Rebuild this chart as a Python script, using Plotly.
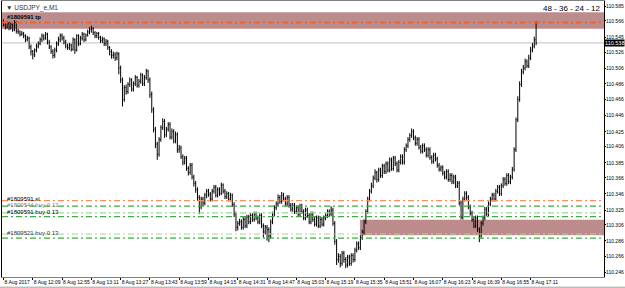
import plotly.graph_objects as go

# ---------------- data (USDJPY_e, M1, 8 Aug 2017) ----------------
opens = [
    110.565, 110.561, 110.558, 110.563, 110.557, 110.562, 110.555, 110.564, 110.553, 110.552, 110.549, 110.550, 110.547, 110.542, 110.544, 110.533,
    110.527, 110.523, 110.529, 110.534, 110.537, 110.542, 110.547, 110.544, 110.549, 110.539, 110.533, 110.527, 110.522, 110.529, 110.537, 110.542,
    110.547, 110.544, 110.539, 110.534, 110.532, 110.535, 110.530, 110.542, 110.529, 110.547, 110.537, 110.544, 110.549, 110.542, 110.548, 110.552,
    110.555, 110.556, 110.551, 110.547, 110.550, 110.545, 110.541, 110.543, 110.537, 110.540, 110.532, 110.527, 110.522, 110.523, 110.519, 110.524,
    110.506, 110.491, 110.466, 110.481, 110.476, 110.485, 110.491, 110.479, 110.486, 110.494, 110.484, 110.489, 110.497, 110.486, 110.494, 110.502,
    110.491, 110.472, 110.453, 110.428, 110.409, 110.396, 110.415, 110.430, 110.438, 110.421, 110.428, 110.434, 110.418, 110.425, 110.413, 110.421,
    110.402, 110.404, 110.393, 110.386, 110.391, 110.378, 110.373, 110.382, 110.367, 110.359, 110.351, 110.341, 110.329, 110.339, 110.334, 110.344,
    110.349, 110.345, 110.339, 110.349, 110.354, 110.344, 110.351, 110.346, 110.357, 110.349, 110.342, 110.346, 110.339, 110.344, 110.332, 110.320,
    110.303, 110.308, 110.310, 110.303, 110.313, 110.305, 110.316, 110.310, 110.318, 110.313, 110.320, 110.315, 110.310, 110.318, 110.305, 110.297,
    110.303, 110.300, 110.292, 110.310, 110.320, 110.328, 110.333, 110.341, 110.336, 110.344, 110.339, 110.333, 110.341, 110.331, 110.326, 110.331,
    110.323, 110.328, 110.320, 110.330, 110.323, 110.315, 110.325, 110.318, 110.310, 110.320, 110.313, 110.307, 110.315, 110.305, 110.313, 110.307,
    110.315, 110.318, 110.323, 110.320, 110.325, 110.308, 110.285, 110.262, 110.266, 110.257, 110.270, 110.262, 110.255, 110.265, 110.257, 110.267,
    110.262, 110.274, 110.282, 110.277, 110.290, 110.297, 110.310, 110.323, 110.339, 110.349, 110.356, 110.366, 110.373, 110.364, 110.376, 110.369,
    110.381, 110.374, 110.384, 110.376, 110.389, 110.378, 110.391, 110.384, 110.376, 110.386, 110.393, 110.386, 110.402, 110.407, 110.415, 110.420,
    110.425, 110.417, 110.410, 110.415, 110.405, 110.400, 110.407, 110.402, 110.395, 110.402, 110.392, 110.387, 110.395, 110.390, 110.382, 110.377,
    110.379, 110.372, 110.367, 110.374, 110.364, 110.369, 110.361, 110.367, 110.356, 110.359, 110.334, 110.316, 110.339, 110.346, 110.341, 110.329,
    110.321, 110.313, 110.305, 110.315, 110.300, 110.292, 110.308, 110.315, 110.326, 110.320, 110.333, 110.339, 110.344, 110.339, 110.349, 110.354,
    110.346, 110.356, 110.364, 110.359, 110.369, 110.361, 110.367, 110.377, 110.402, 110.440, 110.466, 110.485, 110.501, 110.506, 110.514, 110.509,
    110.519, 110.529, 110.534, 110.542,
]
highs = [
    110.568, 110.564, 110.566, 110.565, 110.564, 110.563, 110.567, 110.566, 110.556, 110.554, 110.553, 110.552, 110.549, 110.547, 110.546, 110.536,
    110.529, 110.531, 110.537, 110.540, 110.545, 110.550, 110.549, 110.552, 110.551, 110.542, 110.535, 110.530, 110.532, 110.540, 110.546, 110.550,
    110.550, 110.547, 110.542, 110.537, 110.538, 110.537, 110.545, 110.544, 110.549, 110.549, 110.547, 110.552, 110.551, 110.550, 110.555, 110.558,
    110.560, 110.558, 110.553, 110.552, 110.552, 110.547, 110.546, 110.545, 110.543, 110.542, 110.534, 110.530, 110.527, 110.526, 110.527, 110.526,
    110.509, 110.494, 110.484, 110.485, 110.488, 110.494, 110.493, 110.489, 110.497, 110.496, 110.492, 110.500, 110.499, 110.497, 110.505, 110.504,
    110.494, 110.476, 110.456, 110.431, 110.412, 110.418, 110.433, 110.442, 110.441, 110.431, 110.437, 110.437, 110.429, 110.428, 110.425, 110.424,
    110.408, 110.407, 110.396, 110.394, 110.394, 110.381, 110.385, 110.385, 110.370, 110.362, 110.354, 110.344, 110.342, 110.342, 110.347, 110.352,
    110.352, 110.348, 110.352, 110.357, 110.357, 110.354, 110.354, 110.360, 110.359, 110.352, 110.349, 110.348, 110.347, 110.346, 110.335, 110.323,
    110.311, 110.314, 110.313, 110.316, 110.316, 110.319, 110.319, 110.321, 110.321, 110.323, 110.323, 110.318, 110.321, 110.321, 110.308, 110.306,
    110.306, 110.303, 110.313, 110.323, 110.331, 110.336, 110.345, 110.344, 110.348, 110.347, 110.342, 110.344, 110.344, 110.334, 110.334, 110.334,
    110.331, 110.331, 110.333, 110.333, 110.326, 110.328, 110.328, 110.321, 110.323, 110.323, 110.316, 110.318, 110.318, 110.316, 110.316, 110.318,
    110.321, 110.326, 110.326, 110.330, 110.328, 110.311, 110.288, 110.270, 110.269, 110.273, 110.273, 110.265, 110.268, 110.268, 110.270, 110.270,
    110.277, 110.285, 110.285, 110.293, 110.300, 110.313, 110.326, 110.342, 110.352, 110.360, 110.369, 110.377, 110.375, 110.379, 110.379, 110.384,
    110.384, 110.387, 110.387, 110.392, 110.392, 110.394, 110.394, 110.387, 110.389, 110.396, 110.396, 110.405, 110.410, 110.418, 110.423, 110.429,
    110.428, 110.420, 110.418, 110.418, 110.408, 110.410, 110.410, 110.405, 110.405, 110.405, 110.395, 110.398, 110.398, 110.393, 110.385, 110.382,
    110.382, 110.375, 110.377, 110.377, 110.372, 110.372, 110.370, 110.370, 110.362, 110.362, 110.337, 110.342, 110.349, 110.349, 110.344, 110.332,
    110.324, 110.316, 110.318, 110.318, 110.303, 110.311, 110.318, 110.329, 110.329, 110.336, 110.342, 110.347, 110.347, 110.352, 110.357, 110.357,
    110.359, 110.367, 110.367, 110.372, 110.372, 110.370, 110.380, 110.405, 110.443, 110.470, 110.489, 110.505, 110.510, 110.518, 110.517, 110.523,
    110.533, 110.538, 110.546, 110.566,
]
lows = [
    110.559, 110.555, 110.556, 110.554, 110.555, 110.552, 110.553, 110.550, 110.549, 110.546, 110.547, 110.544, 110.539, 110.540, 110.530, 110.522,
    110.517, 110.520, 110.526, 110.531, 110.535, 110.539, 110.541, 110.542, 110.536, 110.530, 110.524, 110.518, 110.519, 110.526, 110.534, 110.539,
    110.541, 110.536, 110.531, 110.529, 110.529, 110.527, 110.528, 110.524, 110.527, 110.534, 110.535, 110.541, 110.539, 110.540, 110.546, 110.549,
    110.551, 110.548, 110.544, 110.544, 110.542, 110.538, 110.538, 110.534, 110.534, 110.529, 110.522, 110.518, 110.518, 110.515, 110.516, 110.498,
    110.487, 110.457, 110.463, 110.472, 110.473, 110.482, 110.476, 110.476, 110.483, 110.481, 110.481, 110.486, 110.483, 110.483, 110.491, 110.487,
    110.468, 110.449, 110.424, 110.404, 110.389, 110.393, 110.412, 110.427, 110.417, 110.418, 110.425, 110.415, 110.415, 110.410, 110.410, 110.398,
    110.398, 110.390, 110.382, 110.383, 110.375, 110.369, 110.370, 110.364, 110.355, 110.347, 110.337, 110.320, 110.326, 110.330, 110.331, 110.340,
    110.342, 110.336, 110.336, 110.346, 110.341, 110.341, 110.343, 110.344, 110.346, 110.339, 110.339, 110.336, 110.336, 110.329, 110.316, 110.298,
    110.299, 110.305, 110.300, 110.300, 110.302, 110.302, 110.307, 110.307, 110.310, 110.310, 110.312, 110.307, 110.307, 110.302, 110.290, 110.294,
    110.286, 110.284, 110.289, 110.307, 110.317, 110.325, 110.330, 110.333, 110.333, 110.336, 110.330, 110.330, 110.328, 110.323, 110.323, 110.320,
    110.320, 110.317, 110.317, 110.320, 110.312, 110.312, 110.315, 110.307, 110.307, 110.310, 110.304, 110.304, 110.302, 110.302, 110.304, 110.304,
    110.312, 110.315, 110.317, 110.317, 110.305, 110.281, 110.255, 110.258, 110.252, 110.254, 110.258, 110.251, 110.252, 110.254, 110.254, 110.258,
    110.259, 110.271, 110.274, 110.274, 110.287, 110.294, 110.307, 110.320, 110.336, 110.346, 110.353, 110.363, 110.360, 110.361, 110.366, 110.366,
    110.371, 110.371, 110.373, 110.373, 110.375, 110.375, 110.381, 110.373, 110.373, 110.383, 110.383, 110.383, 110.399, 110.404, 110.412, 110.417,
    110.414, 110.407, 110.407, 110.402, 110.397, 110.397, 110.399, 110.392, 110.392, 110.389, 110.384, 110.384, 110.387, 110.379, 110.374, 110.374,
    110.369, 110.364, 110.364, 110.361, 110.361, 110.358, 110.358, 110.353, 110.353, 110.331, 110.313, 110.313, 110.336, 110.338, 110.326, 110.318,
    110.310, 110.302, 110.302, 110.297, 110.284, 110.289, 110.305, 110.312, 110.317, 110.317, 110.330, 110.336, 110.336, 110.336, 110.346, 110.343,
    110.343, 110.353, 110.356, 110.356, 110.358, 110.358, 110.364, 110.374, 110.399, 110.437, 110.463, 110.482, 110.498, 110.503, 110.506, 110.506,
    110.516, 110.526, 110.531, 110.535,
]
closes = [
    110.561, 110.558, 110.563, 110.557, 110.562, 110.555, 110.564, 110.553, 110.552, 110.549, 110.550, 110.547, 110.542, 110.544, 110.533, 110.527,
    110.523, 110.529, 110.534, 110.537, 110.542, 110.547, 110.544, 110.549, 110.539, 110.533, 110.527, 110.522, 110.529, 110.537, 110.542, 110.547,
    110.544, 110.539, 110.534, 110.532, 110.535, 110.530, 110.542, 110.529, 110.547, 110.537, 110.544, 110.549, 110.542, 110.548, 110.552, 110.555,
    110.556, 110.551, 110.547, 110.550, 110.545, 110.541, 110.543, 110.537, 110.540, 110.532, 110.527, 110.522, 110.523, 110.519, 110.524, 110.506,
    110.491, 110.466, 110.481, 110.476, 110.485, 110.491, 110.479, 110.486, 110.494, 110.484, 110.489, 110.497, 110.486, 110.494, 110.502, 110.491,
    110.472, 110.453, 110.428, 110.409, 110.396, 110.415, 110.430, 110.438, 110.421, 110.428, 110.434, 110.418, 110.425, 110.413, 110.421, 110.402,
    110.404, 110.393, 110.386, 110.391, 110.378, 110.373, 110.382, 110.367, 110.359, 110.351, 110.341, 110.329, 110.339, 110.334, 110.344, 110.349,
    110.345, 110.339, 110.349, 110.354, 110.344, 110.351, 110.346, 110.357, 110.349, 110.342, 110.346, 110.339, 110.344, 110.332, 110.320, 110.303,
    110.308, 110.310, 110.303, 110.313, 110.305, 110.316, 110.310, 110.318, 110.313, 110.320, 110.315, 110.310, 110.318, 110.305, 110.297, 110.303,
    110.300, 110.292, 110.310, 110.320, 110.328, 110.333, 110.341, 110.336, 110.344, 110.339, 110.333, 110.341, 110.331, 110.326, 110.331, 110.323,
    110.328, 110.320, 110.330, 110.323, 110.315, 110.325, 110.318, 110.310, 110.320, 110.313, 110.307, 110.315, 110.305, 110.313, 110.307, 110.315,
    110.318, 110.323, 110.320, 110.325, 110.308, 110.285, 110.262, 110.266, 110.257, 110.270, 110.262, 110.255, 110.265, 110.257, 110.267, 110.262,
    110.274, 110.282, 110.277, 110.290, 110.297, 110.310, 110.323, 110.339, 110.349, 110.356, 110.366, 110.373, 110.364, 110.376, 110.369, 110.381,
    110.374, 110.384, 110.376, 110.389, 110.378, 110.391, 110.384, 110.376, 110.386, 110.393, 110.386, 110.402, 110.407, 110.415, 110.420, 110.425,
    110.417, 110.410, 110.415, 110.405, 110.400, 110.407, 110.402, 110.395, 110.402, 110.392, 110.387, 110.395, 110.390, 110.382, 110.377, 110.379,
    110.372, 110.367, 110.374, 110.364, 110.369, 110.361, 110.367, 110.356, 110.359, 110.334, 110.316, 110.339, 110.346, 110.341, 110.329, 110.321,
    110.313, 110.305, 110.315, 110.300, 110.292, 110.308, 110.315, 110.326, 110.320, 110.333, 110.339, 110.344, 110.339, 110.349, 110.354, 110.346,
    110.356, 110.364, 110.359, 110.369, 110.361, 110.367, 110.377, 110.402, 110.440, 110.466, 110.485, 110.501, 110.506, 110.514, 110.509, 110.519,
    110.529, 110.534, 110.542, 110.538,
]

# time axis labels (one every 16 bars)
x_label_every = 16
x_labels = ["8 Aug 2017", "8 Aug 12:09", "8 Aug 12:55", "8 Aug 13:11", "8 Aug 13:27",
            "8 Aug 13:43", "8 Aug 13:59", "8 Aug 14:15", "8 Aug 14:31", "8 Aug 14:47",
            "8 Aug 15:03", "8 Aug 15:19", "8 Aug 15:35", "8 Aug 15:51", "8 Aug 16:07",
            "8 Aug 16:23", "8 Aug 16:39", "8 Aug 16:55", "8 Aug 17:11"]

# price scale labels
y_ticks = [110.585, 110.566, 110.545, 110.526, 110.506, 110.486, 110.466, 110.446, 110.425,
           110.406, 110.385, 110.366, 110.346, 110.325, 110.306, 110.286, 110.266, 110.246]

bid_price = 110.538
y_range = [110.2397, 110.5914]

# supply / demand zones (price bounds) and order lines
zone_top = (110.556, 110.577)
zone_bottom = (110.293, 110.3125)
zone_bottom_start_bar = 194.8
tp_level = 110.564
sl_level = 110.337
buy_levels = [110.330, 110.3215, 110.3167, 110.2945, 110.2893]
buy_level_colors = ["#3faa3f", "#9fd49f", "#3faa3f", "#9fd49f", "#3faa3f"]

order_labels = [
    ("<b>#1809591 tp</b>", 110.5715, "#000000"),
    ("#1809591 sl", 110.3396, "#000000"),
    ("#1809544 buy 0.13", 110.332, "#7f7f7f"),
    ("#1809591 buy 0.13", 110.3225, "#000000"),
    ("#1809521 buy 0.13", 110.2955, "#333333"),
]

# ---------------- figure ----------------
idx = list(range(len(closes)))
x_range = [-0.82, 328.1]
FONT = "Liberation Sans"

fig = go.Figure()
fig.add_trace(go.Ohlc(
    x=idx, open=opens, high=highs, low=lows, close=closes,
    increasing=dict(line=dict(color="#000000", width=1)),
    decreasing=dict(line=dict(color="#000000", width=1)),
    tickwidth=0.35, hoverinfo="skip", showlegend=False,
))

shapes = []
shapes.append(dict(type="rect", xref="paper", yref="y", x0=0, x1=1,
                   y0=zone_top[0], y1=zone_top[1], fillcolor="#bc8c8c",
                   line=dict(width=0), layer="below"))
shapes.append(dict(type="rect", xref="x", yref="y", x0=zone_bottom_start_bar, x1=x_range[1],
                   y0=zone_bottom[0], y1=zone_bottom[1], fillcolor="#bc8c8c",
                   line=dict(width=0), layer="below"))
shapes.append(dict(type="line", xref="paper", yref="y", x0=0, x1=1, y0=bid_price, y1=bid_price,
                   line=dict(color="#c0c0c0", width=1), layer="below"))
shapes.append(dict(type="line", xref="paper", yref="y", x0=0, x1=1, y0=tp_level, y1=tp_level,
                   line=dict(color="#f0642a", width=2, dash="6px,3px,2px,3px")))
shapes.append(dict(type="line", xref="paper", yref="y", x0=0, x1=1, y0=sl_level, y1=sl_level,
                   line=dict(color="#ff8c5a", width=1.3, dash="6px,3px,2px,3px")))
for lv, col in zip(buy_levels, buy_level_colors):
    shapes.append(dict(type="line", xref="paper", yref="y", x0=0, x1=1, y0=lv, y1=lv,
                       line=dict(color=col, width=1.2, dash="6px,3px,2px,3px")))
shapes.append(dict(type="line", xref="paper", yref="paper", x0=-0.01, x1=1.05, y0=-0.037, y1=-0.037,
                   line=dict(color="#a0a0a0", width=1)))

annotations = []
for txt, lv, col in order_labels:
    annotations.append(dict(x=0.005, xref="paper", y=lv, yref="y", text=txt, showarrow=False,
                            xanchor="left", yanchor="middle",
                            font=dict(family=FONT, size=6, color=col)))
annotations.append(dict(x=0.003, xref="paper", y=0.995, yref="paper", text="▼ USDJPY_e,M1",
                        showarrow=False, xanchor="left", yanchor="top",
                        font=dict(family=FONT, size=6.5, color="#333333")))
annotations.append(dict(x=0.997, xref="paper", y=0.995, yref="paper", text="48 - 36 - 24 - 12",
                        showarrow=False, xanchor="right", yanchor="top",
                        font=dict(family=FONT, size=8, color="#000000")))
# price scale labels drawn beside the axis
for v in y_ticks:
    annotations.append(dict(x=1.0, xref="paper", y=v, yref="y", text=f"{v:.3f}",
                            showarrow=False, xanchor="left", yanchor="middle", xshift=1,
                            borderpad=0, font=dict(family=FONT, size=5, color="#000000")))
annotations.append(dict(x=1.0, xref="paper", y=bid_price, yref="y", text="110.538",
                        showarrow=False, xanchor="left", yanchor="middle", bgcolor="#000000",
                        borderpad=0, xshift=0,
                        font=dict(family=FONT, size=5.5, color="#ffffff")))

fig.update_layout(
    width=625, height=288,
    margin=dict(l=2, r=21, t=1, b=11, autoexpand=False),
    paper_bgcolor="#ffffff", plot_bgcolor="#ffffff",
    shapes=shapes, annotations=annotations,
    showlegend=False,
    xaxis=dict(
        range=x_range, rangeslider=dict(visible=False), showgrid=False, zeroline=False,
        tickvals=[i * x_label_every for i in range(len(x_labels))], ticktext=x_labels,
        tickangle=0, automargin=False,
        ticks="outside", ticklen=2, tickcolor="#000000", ticklabelposition="outside right",
        tickfont=dict(family=FONT, size=5, color="#000000"),
        showline=True, linecolor="#808080", linewidth=1, mirror=True,
    ),
    yaxis=dict(
        range=y_range, side="right", showgrid=False, zeroline=False, automargin=False,
        tickvals=y_ticks, showticklabels=False,
        ticks="outside", ticklen=1, tickcolor="#000000",
        showline=True, linecolor="#000000", linewidth=1, mirror=True,
    ),
)

fig.write_html("out.html")
